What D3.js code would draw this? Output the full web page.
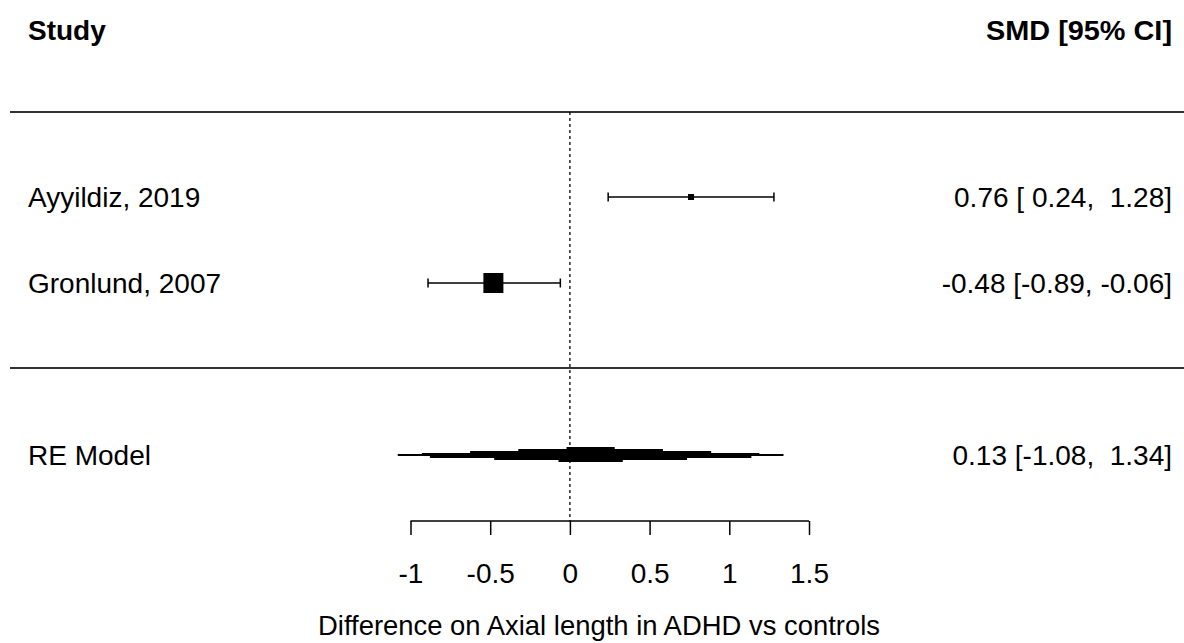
<!DOCTYPE html>
<html>
<head>
<meta charset="utf-8">
<script src="https://cdn.jsdelivr.net/npm/d3@7"></script>
<style>
  html, body { margin: 0; padding: 0; background: #fff; }
  svg text { font-family: "Liberation Sans", Arial, sans-serif; fill: #000; white-space: pre; }
</style>
</head>
<body>
<svg id="chart" width="1184" height="643"></svg>
<script>
// Study-level effects (standardised mean difference with 95% CI)
const studies   = ["Ayyildiz, 2019", "Gronlund, 2007"];
const estimates = [0.76, -0.48];
const lower     = [0.24, -0.89];
const upper     = [1.28, -0.06];
const weights   = [45.9, 54.1];   // relative study weights (%)

// Random-effects pooled estimate
const pooledLabel = "RE Model";
const pooled      = { est: 0.13, lb: -1.08, ub: 1.34 };

// Axis
const tickValues = [-1, -0.5, 0, 0.5, 1, 1.5];
const tickLabels = ["-1", "-0.5", "0", "0.5", "1", "1.5"];
const xTitle = "Difference on Axial length in ADHD vs controls";
const headers = ["Study", "SMD [95% CI]"];

const fmt = v => (v < 0 ? "" : " ") + v.toFixed(2);
const ciText = (e, l, u) => e.toFixed(2) + " [" + fmt(l) + ", " + fmt(u) + "]";

const svg = d3.select("#chart");
const FS = 28;

const x = d3.scaleLinear().domain([-1, 1.5]).range([410.5, 809]);
const yFor = { "Ayyildiz, 2019": 197, "Gronlund, 2007": 283 };
const yPooled = 455;
const yTopRule = 112, yMidRule = 368, yAxis = 521;
const size = d3.scaleLinear().domain(d3.extent(weights)).range([6, 20]);

// headers
svg.append("text").attr("x", 28).attr("y", 40)
  .attr("font-size", 28).attr("font-weight", "bold").text(headers[0]);
svg.append("text").attr("x", 1172).attr("y", 40).attr("text-anchor", "end")
  .attr("font-size", 28).attr("font-weight", "bold")
  .attr("textLength", 186).attr("lengthAdjust", "spacingAndGlyphs").text(headers[1]);

// horizontal rules
[yTopRule, yMidRule].forEach(yy => {
  svg.append("line").attr("x1", 10).attr("x2", 1184).attr("y1", yy).attr("y2", yy)
    .attr("stroke", "#333").attr("stroke-width", 2);
});

// reference line at zero
svg.append("line").attr("x1", x(0)).attr("x2", x(0))
  .attr("y1", yTopRule).attr("y2", yAxis)
  .attr("stroke", "#000").attr("stroke-width", 1.3).attr("stroke-dasharray", "3,3");

// study rows
const rows = studies.map((s, i) => ({ s, e: estimates[i], l: lower[i], u: upper[i], w: weights[i], y: yFor[s] }));
const g = svg.append("g");
rows.forEach(d => {
  g.append("line").attr("x1", x(d.l)).attr("x2", x(d.u)).attr("y1", d.y).attr("y2", d.y)
    .attr("stroke", "#000").attr("stroke-width", 1.5);
  [d.l, d.u].forEach(v => {
    g.append("line").attr("x1", x(v)).attr("x2", x(v)).attr("y1", d.y - 4.5).attr("y2", d.y + 4.5)
      .attr("stroke", "#000").attr("stroke-width", 1.5);
  });
  const sz = size(d.w);
  g.append("rect").attr("x", x(d.e) - sz / 2).attr("y", d.y - sz / 2)
    .attr("width", sz).attr("height", sz).attr("fill", "#000");
  g.append("text").attr("x", 28).attr("y", d.y + 10).attr("font-size", FS).text(d.s);
  g.append("text").attr("x", 1172).attr("y", d.y + 10).attr("text-anchor", "end")
    .attr("font-size", FS).text(ciText(d.e, d.l, d.u));
});

// pooled diamond, drawn as a stepped polygon in 2px bands
const cx = x(pooled.est), xl = x(pooled.lb), xr = x(pooled.ub);
const bands = [];
bands.push({ y0: yPooled - 1, y1: yPooled + 1, f: 1 });
for (let i = 1; i <= 4; i++) bands.push({ y0: yPooled - 2 * i, y1: yPooled - 2 * i + 2.2, f: 1 - (2 * i - 1) / 8 });
for (let i = 1; i <= 3; i++) bands.push({ y0: yPooled + 2 * i - 1.2, y1: yPooled + 2 * i + 1, f: 1 - (2 * i - 1) / 6 });
svg.append("g").selectAll("rect").data(bands).join("rect")
  .attr("x", b => cx - (cx - xl) * b.f)
  .attr("width", b => (xr - cx) * b.f + (cx - xl) * b.f)
  .attr("y", b => b.y0).attr("height", b => b.y1 - b.y0)
  .attr("fill", "#000");
svg.append("text").attr("x", 28).attr("y", yPooled + 10).attr("font-size", FS).text(pooledLabel);
svg.append("text").attr("x", 1172).attr("y", yPooled + 10).attr("text-anchor", "end")
  .attr("font-size", FS).text(ciText(pooled.est, pooled.lb, pooled.ub));

// x axis
const axis = d3.axisBottom(x).tickValues(tickValues).tickSize(14).tickPadding(28)
  .tickFormat((d, i) => tickLabels[i]);
const ag = svg.append("g").attr("transform", `translate(0,${yAxis})`).call(axis);
ag.select(".domain").attr("d", `M${x(-1)},0H${x(1.5)}`).attr("stroke-width", 1.5);
ag.selectAll(".tick line").attr("stroke-width", 1.5);
ag.selectAll(".tick text").attr("font-size", FS).attr("font-family", "Liberation Sans, Arial, sans-serif")
  .attr("dy", 0).attr("y", 62);

// axis title, centred under the plotting region
svg.append("text").attr("x", 599).attr("y", 635).attr("text-anchor", "middle")
  .attr("font-size", FS).attr("textLength", 562).attr("lengthAdjust", "spacingAndGlyphs").text(xTitle);
</script>
</body>
</html>
